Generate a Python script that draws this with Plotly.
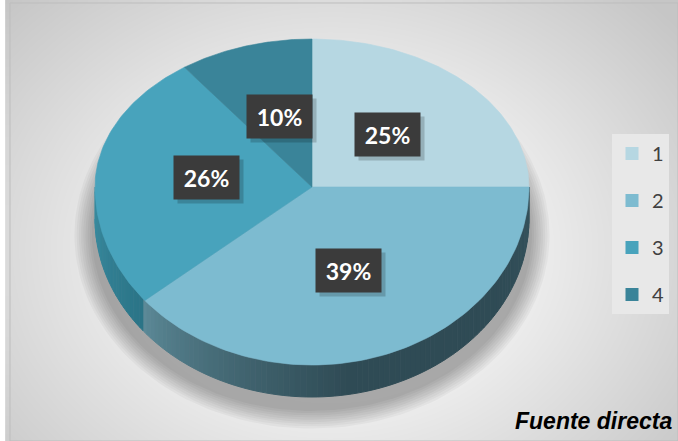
import numpy as np
import plotly.graph_objects as go

# Survey answer shares (percent) for options 1..4
categories = ["1", "2", "3", "4"]
values = [25, 39, 26, 10]
top_colors = ["#B6D7E2", "#7DBBD0", "#48A3BC", "#3A8499"]
side_colors = ["#8FB2BE", "#4F7E8C", "#2D7B8F", "#2B6E80"]

W, H = 678, 441
CX, CY = 312, 187          # pie centre in pixel space
RX, RY_TOP, RY_BOT = 217, 148, 178
DEPTH = 32


def rim(theta_deg):
    t = np.radians(theta_deg)
    s = np.sin(t)
    ry = np.where(s > 0, RY_TOP, RY_BOT)
    return CX + RX * np.cos(t), CY - ry * s


def hex2rgb(h):
    h = h.lstrip("#")
    return np.array([int(h[i:i + 2], 16) for i in (0, 2, 4)], float)


def mix(a, b, t):
    c = hex2rgb(a) * (1 - t) + hex2rgb(b) * t
    return "rgb(%d,%d,%d)" % tuple(c.round())


fig = go.Figure()

# background radial gradient
gx = np.linspace(10, W, 70)
gy = np.linspace(3, H, 50)
XX, YY = np.meshgrid(gx, gy)
zz = np.sqrt(((XX - 330) / 390) ** 2 + ((YY - 250) / 310) ** 2)
fig.add_trace(go.Heatmap(
    x=gx, y=gy, z=zz, zsmooth="best", showscale=False, hoverinfo="skip",
    colorscale=[[0, "#F8F8F8"], [0.45, "#EDEDED"], [1, "#C6C6C6"]],
    zmin=0, zmax=1.15,
))

# soft drop shadow beneath the pie
for k in range(9):
    th = np.linspace(0, 360, 181)
    sx = CX + (RX + 3 + k * 2.2) * np.cos(np.radians(th))
    sy = CY + 48 - (RY_BOT - 2 + k * 2.2) * np.sin(np.radians(th))
    fig.add_trace(go.Scatter(
        x=sx, y=sy, mode="lines", fill="toself", line=dict(width=0),
        fillcolor="rgba(0,0,0,0.034)", hoverinfo="skip", showlegend=False,
    ))

# slice angle spans, clockwise from 12 o'clock
bounds = np.concatenate([[0], np.cumsum(values)]) / sum(values)
starts = 90 - bounds[:-1] * 360
ends = 90 - bounds[1:] * 360


def slice_at(theta):
    # return index of slice that covers the given angle
    for i, (a, b) in enumerate(zip(starts, ends)):
        for off in (0, 360, -360):
            if b <= theta + off <= a:
                return i
    return 0


# side wall of the cylinder (visible front half)
n_seg = 120
edges = np.linspace(180, 360, n_seg + 1)
for a, b in zip(edges[:-1], edges[1:]):
    mid = (a + b) / 2
    i = slice_at(mid)
    if i == 2:
        col = mix("#3A8CA0", "#2A7386", (mid - 180) / 40)
    elif i == 1:
        t = np.clip((mid - 219.6) / 60, 0, 1)
        col = mix("#5C8A98", "#2F4B55", t ** 0.8)
        if mid > 330:
            col = mix("#2F4B55", "#34525C", (mid - 330) / 30)
    else:
        col = side_colors[i]
    th = np.linspace(a, b, 4)
    px, py = rim(th)
    xs = np.concatenate([px, px[::-1]])
    ys = np.concatenate([py, py[::-1] + DEPTH])
    fig.add_trace(go.Scatter(
        x=xs, y=ys, mode="lines", fill="toself", line=dict(width=1, color=col),
        fillcolor=col, hoverinfo="skip", showlegend=False,
    ))

# top face wedges
for i, (a, b) in enumerate(zip(starts, ends)):
    th = np.linspace(a, b, 90)
    px, py = rim(th)
    fig.add_trace(go.Scatter(
        x=np.concatenate([[CX], px, [CX]]), y=np.concatenate([[CY], py, [CY]]),
        mode="lines", fill="toself", line=dict(width=0.6, color=top_colors[i]),
        fillcolor=top_colors[i], hoverinfo="skip", showlegend=False,
    ))

# legend entries
for i, c in enumerate(categories):
    fig.add_trace(go.Scatter(
        x=[None], y=[None], mode="markers", name=c, legendgroup=c,
        marker=dict(symbol="square", size=13, color=top_colors[i]),
    ))

# percentage labels with dark boxes
for i, v in enumerate(values):
    mid = (starts[i] + ends[i]) / 2
    t = np.radians(mid)
    ry = RY_TOP if np.sin(t) > 0 else RY_BOT
    lx = CX + 0.49 * RX * np.cos(t)
    ly = CY - 0.5 * ry * np.sin(t)
    fig.add_annotation(
        x=lx + 4, y=ly + 4, xref="x", yref="y", text=" ", showarrow=False,
        width=63, height=41, bgcolor="rgba(0,0,0,0.18)",
    )
    fig.add_annotation(
        x=lx, y=ly, xref="x", yref="y", text="<b>%d%%</b>" % v, showarrow=False,
        width=63, height=41, bgcolor="#3B3B3B",
        font=dict(family="Lato", size=23, color="white"),
    )

fig.add_annotation(
    x=674, y=421, xref="x", yref="y", xanchor="right", showarrow=False,
    text="<b><i>Fuente directa</i></b>",
    font=dict(family="Liberation Sans", size=23, color="black"),
)

fig.update_layout(
    width=W, height=H, margin=dict(l=0, r=0, t=0, b=0),
    paper_bgcolor="white", plot_bgcolor="white",
    xaxis=dict(range=[0, W], visible=False, fixedrange=True),
    yaxis=dict(range=[H, 0], visible=False, fixedrange=True),
    showlegend=True,
    legend=dict(
        x=612 / W, y=1 - 134 / H, xanchor="left", yanchor="top",
        bgcolor="#E8E8E8", font=dict(family="Lato", size=20, color="#404040"),
        tracegroupgap=18, itemwidth=30,
    ),
    shapes=[dict(type="rect", xref="x", yref="y", x0=10, y0=3, x1=W, y1=H,
                 line=dict(color="#BDBDBD", width=1))],
)

fig.write_html("out.html")
